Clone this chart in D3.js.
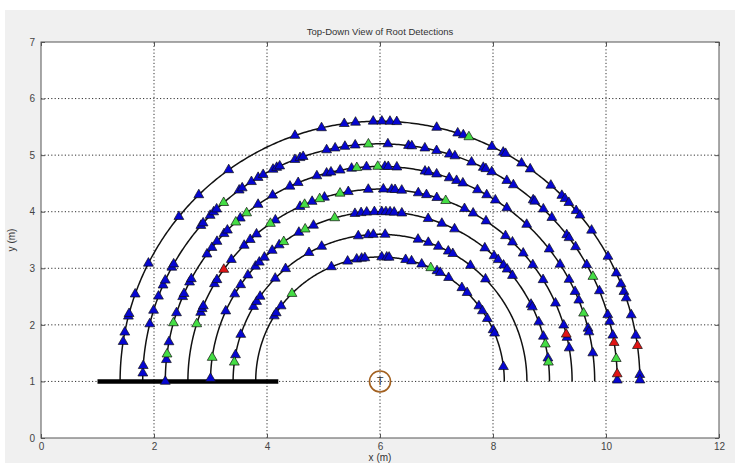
<!DOCTYPE html>
<html>
<head>
<meta charset="utf-8">
<script src="https://cdn.jsdelivr.net/npm/d3@7"></script>
<style>
  body { margin: 0; background: #fff; }
  svg { display: block; }
  text { font-family: "Liberation Sans", Arial, sans-serif; }
</style>
</head>
<body>
<svg id="chart" width="735" height="463"></svg>
<script>
// Axis ticks (metres)
const xTicks = [0, 2, 4, 6, 8, 10, 12];
const yTicks = [0, 1, 2, 3, 4, 5, 6, 7];

// Scan rings around the transmitter, radius in metres
const ringRadii = [4.6, 4.2, 3.8, 3.4, 3.0, 2.6, 2.2];
const transmitter = [6, 1];
const baseLine = [[1, 1], [4.2, 1]];

// Detections per ring: [radius, [angle in degrees measured from +x]]
const blueHits = [
  [4.6, [171.2,169.1,165.5,164.9,160.4,153.0,140.7,134.2,125.6,109.1,103.0,97.9,95.4,91.5,89.6,87.8,86.3,77.4,72.6,71.3,64.5,61.7,61.1,57.0,54.7,48.9,45.6,44.6,43.4,41.0,39.7,35.5,28.7,24.6,22.0,20.2,18.7,14.8,10.2,1.5,0.3]],
  [4.2, [178.0,176.2,166.0,162.6,159.0,156.1,154.8,151.3,150.4,139.0,138.2,135.7,134.5,133.5,126.4,125.5,122.8,120.9,119.5,116.8,115.8,115.0,111.0,109.7,108.9,103.0,100.9,98.5,96.0,88.1,83.1,82.3,79.1,76.2,73.0,71.6,67.3,64.2,63.5,61.9,57.7,55.8,49.8,49.3,46.5,43.6,38.1,37.2,34.5,29.4,22.4,16.3,14.6,11.2,0.3]],
  [3.8, [180,174.2,169.4,161.4,156.8,155.9,152.5,151.5,143.7,141.5,139.4,136.6,135.3,130.6,124.6,120.0,114.8,112.4,107.1,104.4,103.2,100.7,97.6,93.6,88.7,87.8,85.5,77.9,76.9,74.7,71.2,69.1,67.3,63.0,60.2,57.5,53.8,46.9,38.0,33.0,28.3,24.7,22.2,14.3,13.3,7.6]],
  [3.4, [159.0,157.8,156.9,149.5,148.1,140.7,135.0,132.5,130.0,123.0,114.6,110.7,106.8,99.5,93.5,89.0,86.5,85.5,83.5,78.5,76.0,72.8,63.9,61.0,56.5,49.2,46.4,41.8,37.3,31.9,24.0,17.0,13.2,10.0]],
  [3.0, [179.0,155.5,149.0,145.3,141.2,137.3,135.4,133.0,129.5,126.5,118.6,113.1,98.5,96.4,94.5,91.9,89.4,88.0,86.6,85.2,82.6,73.5,68.6,63.9,51.8,47.7,45.8,43.2,41.4,38.6,27.0,26.0,20.5,15.4,7.9]],
  [2.6, [169.6,161.4,149.4,147.1,144.7,135.5,130.0,118.9,113.4,98.5,94.6,92.6,88.0,75.0,70.8,66.6,62.3,60.3,52.0,44.1]],
  [2.2, [148.3,146.6,142.7,113.0,105.1,100.8,98.5,97.0,89.2,86.9,85.8,78.1,75.3,70.4,62.7,61.0,56.5,48.8,45.5,37.3,34.5,30.3,24.5,22.8,6.8]]
];
const greenHits = [
  [4.6, [70.0]],
  [4.2, [131.2,92.8,26.2,5.5]],
  [3.8, [172.7,164.2,132.2,128.4,96.2,90.6,18.5]],
  [3.4, [162.6,124.8,113.1,108.3,102.0,70.0]],
  [3.0, [171.9,124.6,116.2,105.5,12.7,6.5]],
  [2.6, [172.5]],
  [2.2, [135.1,65.9]]
];
const redHits = [
  [4.6, [7.9]],
  [4.2, [9.4,1.8]],
  [3.4, [144.4,14.2]]
];

const W = 735, H = 463;
const svg = d3.select("#chart");

// figure background
svg.append("rect").attr("x", 5).attr("y", 10).attr("width", W - 5).attr("height", H - 10)
  .attr("fill", "#f0f0f0");

const x = d3.scaleLinear().domain([0, 12]).range([41, 719]);
const y = d3.scaleLinear().domain([0, 7]).range([438, 42]);

// plot area
svg.append("rect").attr("x", x(0)).attr("y", y(7))
  .attr("width", x(12) - x(0)).attr("height", y(0) - y(7)).attr("fill", "#fff");

// dotted grid
const grid = svg.append("g").attr("stroke", "#333").attr("stroke-width", 1)
  .attr("stroke-dasharray", "1.2,2.2");
grid.selectAll("line.gx").data(xTicks.slice(1, -1)).join("line").attr("class", "gx")
  .attr("x1", d => x(d)).attr("x2", d => x(d)).attr("y1", y(0)).attr("y2", y(7));
grid.selectAll("line.gy").data(yTicks.slice(1, -1)).join("line").attr("class", "gy")
  .attr("y1", d => y(d)).attr("y2", d => y(d)).attr("x1", x(0)).attr("x2", x(12));

// axes with inward ticks
const axisColor = "#555";
function styleAxis(g) {
  g.select(".domain").remove();
  g.selectAll(".tick line").attr("stroke", axisColor);
  g.selectAll(".tick text").attr("fill", "#444").style("font-size", "10px");
}
svg.append("g").attr("transform", `translate(0,${y(0)})`)
  .call(d3.axisBottom(x).tickValues(xTicks).tickSize(-4).tickPadding(5).tickFormat(d3.format("d")))
  .call(styleAxis);
svg.append("g").attr("transform", `translate(0,${y(7)})`)
  .call(d3.axisTop(x).tickValues(xTicks).tickSize(-4).tickFormat(""))
  .call(styleAxis);
svg.append("g").attr("transform", `translate(${x(0)},0)`)
  .call(d3.axisLeft(y).tickValues(yTicks).tickSize(-4).tickPadding(6).tickFormat(d3.format("d")))
  .call(styleAxis);
svg.append("g").attr("transform", `translate(${x(12)},0)`)
  .call(d3.axisRight(y).tickValues(yTicks).tickSize(-4).tickFormat(""))
  .call(styleAxis);

// rings
const sweep = d3.range(0, 180.5, 0.5);
const ringPath = r => d3.line()
  .x(a => x(transmitter[0] + r * Math.cos(a * Math.PI / 180)))
  .y(a => y(transmitter[1] + r * Math.sin(a * Math.PI / 180)))(sweep);
svg.append("g").selectAll("path").data(ringRadii).join("path")
  .attr("d", ringPath).attr("fill", "none").attr("stroke", "#111").attr("stroke-width", 1.5);

// base line
svg.append("line")
  .attr("x1", x(baseLine[0][0])).attr("y1", y(baseLine[0][1]))
  .attr("x2", x(baseLine[1][0])).attr("y2", y(baseLine[1][1]))
  .attr("stroke", "#000").attr("stroke-width", 4.5);

// transmitter marker
svg.append("circle").attr("cx", x(transmitter[0])).attr("cy", y(transmitter[1])).attr("r", 10.5)
  .attr("fill", "none").attr("stroke", "#a2601f").attr("stroke-width", 1.6);
svg.append("text").attr("x", x(transmitter[0])).attr("y", y(transmitter[1]) + 4)
  .attr("text-anchor", "middle").style("font-size", "11px").attr("fill", "#333").text("T");

// detections
const tri = d3.symbol().type(d3.symbolTriangle).size(42);
function drawHits(groups, fill) {
  const pts = groups.flatMap(([r, angles]) => angles.map(a => ({ r, a })));
  svg.append("g").selectAll("path").data(pts).join("path")
    .attr("d", tri)
    .attr("transform", d => `translate(${x(transmitter[0] + d.r * Math.cos(d.a * Math.PI / 180))},${y(transmitter[1] + d.r * Math.sin(d.a * Math.PI / 180))})`)
    .attr("fill", fill).attr("stroke", "#111").attr("stroke-width", 0.7);
}
drawHits(blueHits, "#0606d2");
drawHits(greenHits, "#44dd44");
drawHits(redHits, "#e01515");

// box
svg.append("rect").attr("x", x(0)).attr("y", y(7))
  .attr("width", x(12) - x(0)).attr("height", y(0) - y(7))
  .attr("fill", "none").attr("stroke", axisColor).attr("stroke-width", 1);

// labels
svg.append("text").attr("x", (x(0) + x(12)) / 2).attr("y", 35).attr("text-anchor", "middle")
  .style("font-size", "9.5px").attr("fill", "#333").text("Top-Down View of Root Detections");
svg.append("text").attr("x", (x(0) + x(12)) / 2).attr("y", 461).attr("text-anchor", "middle")
  .style("font-size", "10px").attr("fill", "#333").text("x (m)");
svg.append("text").attr("transform", `translate(15,${(y(0) + y(7)) / 2}) rotate(-90)`)
  .attr("text-anchor", "middle").style("font-size", "10px").attr("fill", "#333").text("y (m)");
</script>
</body>
</html>
